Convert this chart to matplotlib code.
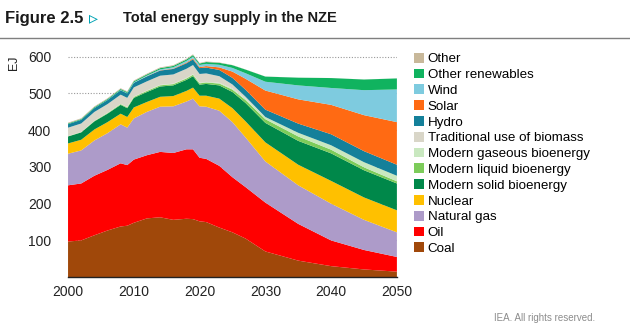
import matplotlib
matplotlib.use("Agg")
import matplotlib.pyplot as plt
from matplotlib.patches import Patch

# --- data (EJ) ---
years = [2000, 2002, 2004, 2006, 2008, 2009, 2010, 2012, 2014, 2016, 2018, 2019, 2020,
         2021, 2023, 2025, 2027, 2030, 2035, 2040, 2045, 2050]

coal = [97, 100, 114, 127, 138, 140, 148, 160, 163, 156, 159, 158, 152,
        150, 135, 122, 105, 70, 45, 30, 21, 15]
oil = [153, 155, 162, 165, 172, 165, 172, 172, 178, 182, 189, 190, 173,
       172, 168, 150, 140, 133, 100, 70, 53, 40]
natural_gas = [86, 90, 96, 100, 106, 102, 112, 118, 123, 127, 130, 138, 140,
               142, 150, 150, 135, 112, 105, 100, 82, 67]
nuclear = [28, 29, 30, 30, 29, 29, 30, 27, 27, 28, 29, 30, 29,
           30, 33, 38, 44, 52, 56, 62, 61, 60]
solid_bio = [19, 20, 22, 23, 24, 24, 26, 27, 28, 29, 30, 31, 30,
             32, 36, 44, 50, 53, 65, 75, 74, 73]
liquid_bio = [0.6, 0.9, 1.2, 1.5, 2, 2.2, 2.5, 3, 3.2, 3.5, 3.8, 4, 3.6,
              4, 5, 6.5, 8, 10, 12, 10, 8, 6]
gaseous_bio = [0.3, 0.4, 0.5, 0.6, 0.8, 0.9, 1, 1.1, 1.2, 1.3, 1.4, 1.5, 1.5,
               1.6, 2, 3, 4, 6, 10, 12, 14, 15]
traditional = [23, 23, 24, 24, 25, 25, 25, 25, 25, 25, 25, 25, 24,
               23, 18, 11, 5, 0, 0, 0, 0, 0]
hydro = [9.5, 10, 10.5, 11, 12, 12, 12.5, 13.5, 14, 15, 15, 15.5, 16,
         16, 17, 18, 19, 20, 25, 30, 30, 30]
solar = [0, 0, 0, 0, 0.05, 0.1, 0.1, 0.4, 0.7, 1.2, 2, 2.6, 3,
         4, 7, 17, 30, 52, 66, 80, 98, 116]
wind = [0.1, 0.1, 0.2, 0.4, 0.7, 0.9, 1.2, 1.8, 2.5, 3.4, 4.5, 5, 5.5,
        6, 7, 10, 15, 24, 38, 46, 68, 89]
other_renewables = [2, 2.1, 2.3, 2.5, 2.7, 2.8, 3, 3.2, 3.4, 3.6, 3.8, 4, 4,
                    5, 5.5, 7.5, 10, 14, 21, 27, 29, 30]
other = [2, 2, 2, 2, 2, 2, 2, 2, 2, 2, 2, 2, 1.5,
         1.5, 1, 0.5, 0.3, 0.2, 0.1, 0.1, 0.1, 0.1]

labels = ["Coal", "Oil", "Natural gas", "Nuclear", "Modern solid bioenergy",
          "Modern liquid bioenergy", "Modern gaseous bioenergy",
          "Traditional use of biomass", "Hydro", "Solar", "Wind",
          "Other renewables", "Other"]
colors = ["#a0480a", "#ff0000", "#ad9bc9", "#ffc000", "#00884a",
          "#7dcc5a", "#c9e8c0", "#d9d6c8", "#14809a", "#ff6a13",
          "#7ecbdf", "#10b35f", "#c8b89a"]
series = [coal, oil, natural_gas, nuclear, solid_bio, liquid_bio, gaseous_bio,
          traditional, hydro, solar, wind, other_renewables, other]

plt.rcParams['font.family'] = ['Liberation Sans', 'DejaVu Sans']

fig = plt.figure(figsize=(6.3, 3.28), dpi=100)
ax = fig.add_axes([0.108, 0.155, 0.522, 0.728])

ax.stackplot(years, *series, colors=colors, linewidth=0, zorder=2)

ax.set_xlim(2000, 2050)
ax.set_ylim(0, 650)
ax.set_xticks(range(2000, 2051, 10))
ax.set_yticks(range(100, 601, 100))
ax.tick_params(axis='both', length=0, labelsize=10, colors='#222222')
ax.tick_params(axis='x', pad=6)
ax.tick_params(axis='y', pad=12)
ax.yaxis.grid(True, linestyle=(0, (1, 1.5)), color='#999999', linewidth=0.8, zorder=0)
ax.set_axisbelow(True)
for s in ['top', 'right', 'left']:
    ax.spines[s].set_visible(False)
ax.spines['bottom'].set_color('#222222')
ax.spines['bottom'].set_linewidth(1.0)
ax.spines['bottom'].set_zorder(3)

fig.text(0.022, 0.81, "EJ", rotation=90, fontsize=9, color='#222222', va='center', ha='center')

# legend, top item first
handles = [Patch(facecolor=c, edgecolor='none') for c in colors][::-1]
fig.legend(handles, labels[::-1], loc='upper left', bbox_to_anchor=(0.648, 0.855),
           frameon=False, fontsize=9.6, handlelength=0.75, handleheight=0.75,
           handletextpad=0.3, labelspacing=0.245, borderaxespad=0)

# header
fig.text(0.008, 0.945, "Figure 2.5", fontsize=12, fontweight='bold', color='#1a1a1a', va='center')
fig.text(0.142, 0.942, "\u25B9", fontsize=13, fontweight='bold', color='#00a3b4', va='center')
fig.text(0.195, 0.945, "Total energy supply in the NZE", fontsize=10.5, fontweight='bold',
         color='#1a1a1a', va='center')
fig.add_artist(plt.Line2D([0, 1], [0.885, 0.885], color='#7f7f7f', linewidth=1.0))

fig.text(0.945, 0.03, "IEA. All rights reserved.", fontsize=7, color='#8c8c8c', ha='right', va='center')

fig.savefig("out.png", dpi=100)
